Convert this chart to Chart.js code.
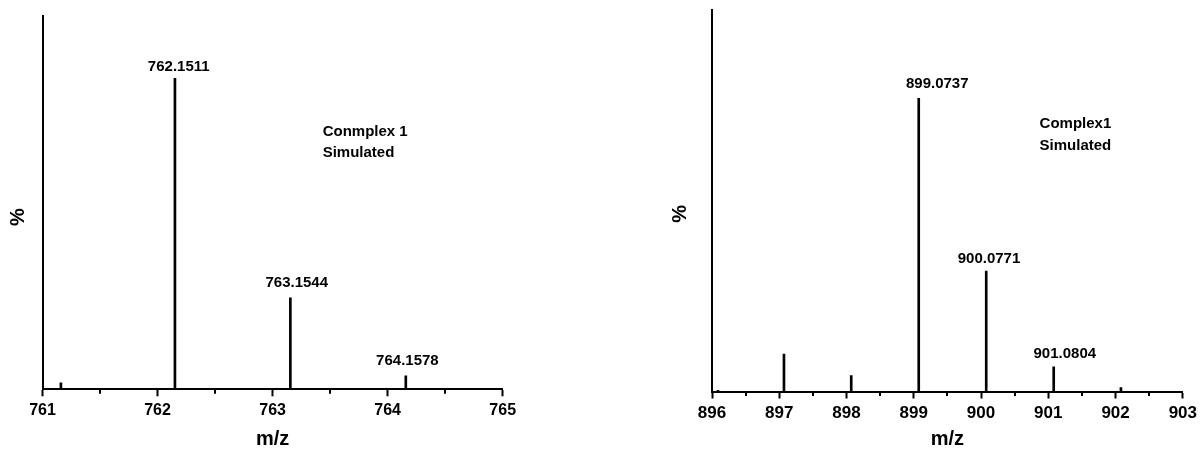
<!DOCTYPE html>
<html><head><meta charset="utf-8">
<script src="https://cdn.jsdelivr.net/npm/chart.js@4.4.1/dist/chart.umd.min.js"></script>
<style>
html,body{margin:0;padding:0;background:#fff;width:1202px;height:451px;overflow:hidden}
canvas{position:absolute;top:0}
#c1{left:0}
#c2{left:600px}
</style></head><body>
<canvas id="c1" width="600" height="451"></canvas>
<canvas id="c2" width="602" height="451"></canvas>
<script>
// ---- data: left spectrum ----
const leftMz = [761.16, 762.1511, 763.1544, 764.1578];
const leftIntensity = [2.1, 100, 29.4, 4.3];
const leftPeakLabels = ['', '762.1511', '763.1544', '764.1578'];
const leftRange = [761, 765];
const leftYMax = 120;
const leftNote = ['Conmplex 1', 'Simulated'];

// ---- data: right spectrum ----
const rightMz = [896.09, 897.07, 898.07, 899.0737, 900.0771, 901.0804, 902.08];
const rightIntensity = [0.4, 12.8, 5.4, 100, 41.1, 8.4, 1.3];
const rightPeakLabels = ['', '', '', '899.0737', '900.0771', '901.0804', ''];
const rightRange = [896, 903];
const rightYMax = 130;
const rightNote = ['Complex1', 'Simulated'];

const xTitle = 'm/z';
const yTitle = '%';

const FONT = '"Liberation Sans", Arial, Helvetica, sans-serif';

const spectrumPlugin = {
  id: 'spectrum',
  afterDraw(chart, args, o) {
    const ctx = chart.ctx;
    const xs = chart.scales.x, ys = chart.scales.y, ca = chart.chartArea;
    ctx.save();
    ctx.fillStyle = '#000';
    ctx.strokeStyle = '#000';
    // minor ticks
    ctx.lineWidth = 2;
    for (let v = xs.min + 0.5; v < xs.max; v += 1) {
      const px = Math.round(xs.getPixelForValue(v));
      ctx.beginPath();
      ctx.moveTo(px, ca.bottom);
      ctx.lineTo(px, ca.bottom + 4.5);
      ctx.stroke();
    }
    // peak labels
    ctx.font = 'bold ' + o.labelSize + 'px ' + FONT;
    ctx.textAlign = 'center';
    ctx.textBaseline = 'middle';
    o.labels.forEach((t, i) => {
      if (!t) return;
      const px = xs.getPixelForValue(o.mz[i]) + o.dx[i];
      const py = ys.getPixelForValue(o.inten[i]) - o.dy[i];
      ctx.fillText(t, px, py);
    });
    // note
    ctx.textAlign = 'left';
    o.note.forEach((t, i) => {
      ctx.fillText(t, xs.getPixelForValue(o.noteX), ys.getPixelForValue(o.noteY[i]));
    });
    // y title
    ctx.font = 'bold 20px ' + FONT;
    ctx.translate(ca.left - o.yTitleDx, (ca.top + ca.bottom) / 2 + o.yTitleDy);
    ctx.rotate(-Math.PI / 2);
    ctx.textAlign = 'center';
    ctx.fillText(yTitle, 0, 0);
    ctx.restore();
  }
};

function makeChart(id, mz, inten, range, ymax, area, tickSize, annot) {
  const ctxEl = document.getElementById(id);
  return new Chart(ctxEl, {
    type: 'bar',
    data: {
      datasets: [{
        data: mz.map((m, i) => ({x: m, y: inten[i]})),
        backgroundColor: '#000',
        borderWidth: 0,
        barThickness: 2
      }]
    },
    options: {
      responsive: false,
      animation: false,
      events: [],
      layout: {padding: {top: area.top, right: area.right, left: 0, bottom: 0}},
      plugins: {legend: {display: false}, tooltip: {enabled: false}, spectrum: annot},
      scales: {
        x: {
          type: 'linear',
          min: range[0], max: range[1],
          offset: false,
          afterFit: s => { s.height = area.xh; },
          grid: {display: true, drawOnChartArea: false, drawTicks: true, tickLength: 7, tickWidth: 2, tickColor: '#000', offset: false},
          border: {display: true, color: '#000', width: 2},
          ticks: {stepSize: 1, color: '#000', font: {family: FONT, size: tickSize, weight: 'bold'}, padding: area.tickPad, maxRotation: 0,
                  callback: v => Number.isInteger(v) ? String(v) : ''},
          title: {display: true, text: xTitle, color: '#000', font: {family: FONT, size: 20, weight: 'bold'}, padding: {top: 0, bottom: 0}}
        },
        y: {
          min: 0, max: ymax,
          afterFit: s => { s.width = area.left; },
          grid: {display: false},
          border: {display: true, color: '#000', width: 2},
          ticks: {display: false}
        }
      }
    },
    plugins: [spectrumPlugin]
  });
}

makeChart('c1', leftMz, leftIntensity, leftRange, leftYMax,
  {left: 42.5, right: 600 - 502.7, top: 16, xh: 451 - 389.3, tickPad: 5}, 16,
  {mz: leftMz, inten: leftIntensity, labels: leftPeakLabels, labelSize: 15,
   dx: [0, 3.8, 6.4, 1.6], dy: [0, 11.6, 15, 15],
   note: leftNote, noteX: 763.435, noteY: [82.8, 75.9],
   yTitleDx: 23.7, yTitleDy: 14.4});

makeChart('c2', rightMz, rightIntensity, rightRange, rightYMax,
  {left: 112, right: 602 - 584.3, top: 10.4, xh: 451 - 391.5, tickPad: 5}, 17,
  {mz: rightMz, inten: rightIntensity, labels: rightPeakLabels, labelSize: 15,
   dx: [0, 0, 0, 18.5, 2.8, 11.1, 0], dy: [0, 0, 0, 14, 12.4, 13.4, 0],
   note: rightNote, noteX: 900.87, noteY: [91.25, 83.8],
   yTitleDx: 31.5, yTitleDy: 13});
</script>
</body></html>
